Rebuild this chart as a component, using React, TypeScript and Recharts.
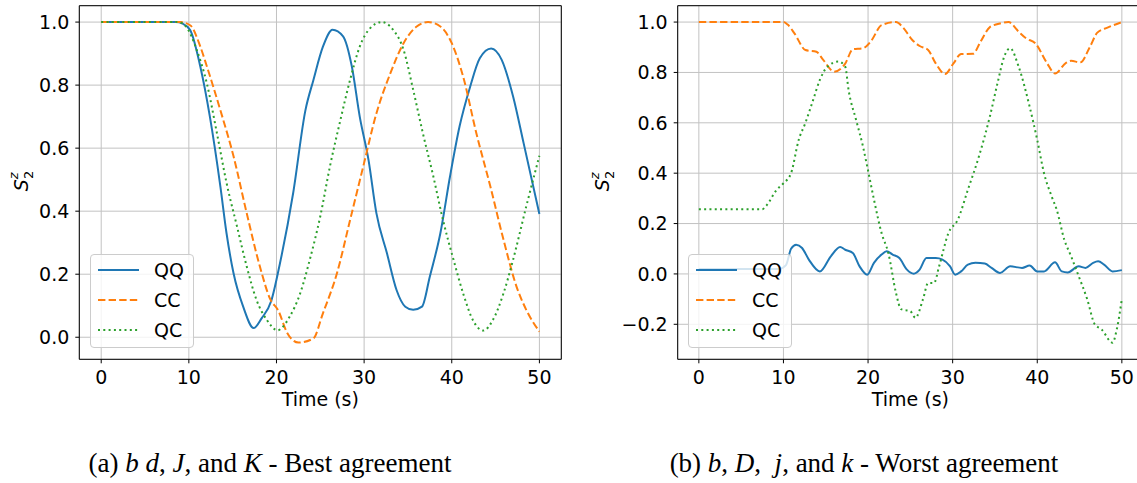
import React from "react";
import {
  LineChart,
  Line,
  XAxis,
  YAxis,
  CartesianGrid,
  Legend,
  ReferenceArea
} from "recharts";

const FONT = '"DejaVu Sans", Verdana, sans-serif';
const BLUE = "#1f77b4";
const ORANGE = "#ff7f0e";
const GREEN = "#2ca02c";

const timeTicks = [0, 10, 20, 30, 40, 50];
const bestTicks = [0, 0.2, 0.4, 0.6, 0.8, 1.0];
const worstTicks = [-0.2, 0, 0.2, 0.4, 0.6, 0.8, 1.0];

// (a) best agreement
const bestQQTime = [0, 8.5, 9.3, 10.15, 11.3, 12.4, 13.6, 14.3, 15.1, 16.2, 17.4, 18.3, 19.4, 20.4, 21.9, 23.3, 24.2, 25.3, 26.4, 27.6, 28.6, 29.5, 30.5, 31.4, 32.6, 33.7, 34.7, 35.6, 36.6, 37.5, 38.7, 39.8, 40.9, 42.1, 43.2, 44.5, 45.7, 47.0, 48.2, 50];
const bestQQ = [1, 1, 0.995, 0.975, 0.86, 0.7, 0.478, 0.33, 0.203, 0.097, 0.029, 0.06, 0.115, 0.235, 0.457, 0.72, 0.815, 0.922, 0.976, 0.955, 0.859, 0.7, 0.563, 0.394, 0.267, 0.15, 0.097, 0.087, 0.097, 0.193, 0.33, 0.51, 0.67, 0.795, 0.885, 0.916, 0.88, 0.764, 0.616, 0.391];

const bestCCTime = [0, 9, 10.15, 11.3, 12.05, 13.6, 15.1, 16.6, 18.1, 19.3, 20.2, 21.2, 22.5, 24.2, 25.3, 26.9, 28.4, 29.9, 31.4, 33.0, 34.5, 36.0, 37.3, 38.7, 40.0, 41.3, 42.8, 44.4, 45.9, 47.4, 48.5, 50];
const bestCC = [1, 1, 0.99, 0.923, 0.86, 0.72, 0.574, 0.394, 0.225, 0.12, 0.085, 0.015, -0.017, -0.004, 0.076, 0.203, 0.372, 0.542, 0.71, 0.838, 0.933, 0.986, 1.0, 0.986, 0.933, 0.827, 0.648, 0.479, 0.31, 0.16, 0.087, 0.018];

const bestQCTime = [0, 8.8, 9.7, 10.9, 12.05, 13.2, 14.3, 15.5, 16.6, 17.7, 18.9, 20.1, 21.5, 22.7, 23.8, 25.0, 26.1, 27.3, 28.4, 29.5, 30.7, 32.0, 33.3, 34.5, 35.6, 36.7, 37.9, 39.0, 40.2, 41.3, 42.4, 43.6, 44.7, 45.9, 47.0, 48.5, 50];
const bestQC = [1, 1, 0.985, 0.912, 0.806, 0.648, 0.49, 0.351, 0.225, 0.12, 0.055, 0.022, 0.065, 0.139, 0.246, 0.384, 0.542, 0.69, 0.817, 0.922, 0.981, 1.0, 0.976, 0.912, 0.785, 0.648, 0.51, 0.372, 0.246, 0.139, 0.055, 0.021, 0.055, 0.139, 0.246, 0.415, 0.576];

// (b) worst agreement
const worstQQTime = [0, 9.5, 10.3, 10.9, 11.5, 12.2, 13.0, 14.3, 15.6, 16.7, 17.3, 18.2, 19.0, 19.9, 20.7, 21.6, 22.2, 22.9, 23.7, 24.6, 25.4, 26.1, 26.9, 28.0, 28.8, 29.7, 30.3, 31.0, 31.8, 32.7, 33.8, 34.6, 35.6, 36.8, 38.2, 39.1, 40.0, 40.8, 42.1, 42.9, 43.6, 44.9, 45.7, 46.6, 47.2, 47.9, 48.9, 50];
const worstQQ = [0.02, 0.02, 0.035, 0.1, 0.116, 0.103, 0.057, 0.01, 0.07, 0.107, 0.096, 0.083, 0.03, -0.003, 0.044, 0.077, 0.09, 0.077, 0.063, 0.017, 0.001, 0.017, 0.063, 0.063, 0.057, 0.03, -0.003, 0.01, 0.037, 0.044, 0.041, 0.024, 0.004, 0.03, 0.024, 0.033, 0.01, 0.01, 0.046, 0.01, 0.006, 0.03, 0.024, 0.044, 0.05, 0.037, 0.01, 0.015];

const worstCCTime = [0, 10, 10.5, 11.3, 12.6, 13.9, 14.7, 16.0, 17.3, 18.2, 19.4, 20.3, 21.6, 23.3, 24.1, 25.2, 26.1, 27.1, 28.0, 29.1, 30.1, 31.0, 32.4, 33.3, 34.4, 35.7, 36.6, 37.8, 38.7, 39.8, 41.1, 42.1, 43.4, 44.0, 45.1, 46.2, 47.1, 48.3, 50];
const worstCC = [1, 1, 0.99, 0.955, 0.889, 0.882, 0.85, 0.803, 0.835, 0.892, 0.896, 0.922, 0.988, 1.0, 0.98, 0.93, 0.905, 0.889, 0.836, 0.794, 0.836, 0.873, 0.874, 0.922, 0.98, 0.995, 1.0, 0.962, 0.935, 0.915, 0.84, 0.796, 0.838, 0.846, 0.84, 0.9, 0.958, 0.978, 1.0];

const worstQCTime = [0, 7.5, 7.9, 9.2, 10.0, 10.9, 11.8, 12.6, 13.5, 14.3, 15.2, 16.5, 17.3, 17.7, 18.6, 19.4, 19.9, 20.7, 21.6, 22.4, 23.3, 23.9, 25.0, 25.6, 26.5, 27.1, 27.8, 28.4, 29.5, 30.6, 31.8, 33.1, 34.4, 35.3, 36.1, 36.8, 37.8, 39.1, 40.0, 40.8, 41.7, 42.3, 43.2, 44.0, 44.9, 45.9, 46.8, 47.6, 48.9, 49.4, 50];
const worstQC = [0.257, 0.257, 0.268, 0.334, 0.36, 0.4, 0.532, 0.6, 0.69, 0.77, 0.823, 0.843, 0.823, 0.73, 0.61, 0.506, 0.427, 0.295, 0.162, 0.083, -0.075, -0.14, -0.148, -0.174, -0.1, -0.036, -0.036, 0.03, 0.162, 0.215, 0.334, 0.466, 0.625, 0.757, 0.863, 0.896, 0.823, 0.664, 0.532, 0.4, 0.308, 0.255, 0.136, 0.07, -0.009, -0.1, -0.2, -0.22, -0.273, -0.22, -0.1];

const zip = (t: number[], s: number[]) => t.map((x, i) => ({ t: x, s: s[i] }));

const styles = [
  { name: "QQ", color: BLUE, dash: undefined as string | undefined },
  { name: "CC", color: ORANGE, dash: "7.4 3.2" },
  { name: "QC", color: GREEN, dash: "2 3.3" }
];

const LegendBox = () => (
  <div
    style={{
      position: "relative",
      width: 104,
      height: 94,
      boxSizing: "border-box",
      background: "rgba(255,255,255,0.8)",
      border: "1px solid #cccccc",
      borderRadius: 4,
      fontFamily: FONT,
      fontSize: 19,
      color: "#000"
    }}
  >
    {styles.map((s, i) => (
      <div key={s.name}>
        <svg
          width={50}
          height={6}
          style={{ position: "absolute", left: 0, top: 15 + i * 30 - 3 }}
        >
          <line
            x1={7}
            x2={48}
            y1={3}
            y2={3}
            stroke={s.color}
            strokeWidth={2}
            strokeDasharray={s.dash}
          />
        </svg>
        <span
          style={{
            position: "absolute",
            left: 63,
            top: 15 + i * 30 - 12,
            lineHeight: "24px"
          }}
        >
          {s.name}
        </span>
      </div>
    ))}
  </div>
);

const YTitle = ({ px, py }: { px: number; py: number }) => (
  <text
    transform={`translate(${px},${py}) rotate(-90)`}
    textAnchor="middle"
    fontFamily={FONT}
    fontSize={19}
    fill="#000"
  >
    <tspan fontStyle="italic">S</tspan>
    <tspan fontSize={13} dy={5}>2</tspan>
    <tspan fontSize={13} fontStyle="italic" dx={-8.3} dy={-15}>z</tspan>
  </text>
);

const XTitle = ({ px, py }: { px: number; py: number }) => (
  <text x={px} y={py} textAnchor="middle" fontFamily={FONT} fontSize={19} fill="#000">
    Time (s)
  </text>
);

const fmt = (v: number) => (v < 0 ? "\u2212" : "") + Math.abs(v).toFixed(1);

interface PanelProps {
  left: number;
  width: number;
  marginLeft: number;
  marginRight: number;
  yDomain: [number, number];
  yTicks: number[];
  qq: { t: number; s: number }[];
  cc: { t: number; s: number }[];
  qc: { t: number; s: number }[];
  yTitleX: number;
  legendLeft: number;
}

const Panel = (p: PanelProps) => {
  const tickStyle = { fill: "#000", fontSize: 19, fontFamily: FONT };
  const plotCenter = p.marginLeft + 60 + (p.width - p.marginLeft - 60 - p.marginRight) / 2;
  return (
    <div style={{ position: "absolute", left: p.left, top: 0 }}>
      <LineChart
        width={p.width}
        height={420}
        margin={{ top: 5.7, right: p.marginRight, bottom: 8.7, left: p.marginLeft }}
      >
        <CartesianGrid stroke="#c2c2c2" strokeWidth={1} />
        <XAxis
          dataKey="t"
          type="number"
          domain={[-2.5, 52.5]}
          ticks={timeTicks}
          allowDataOverflow
          height={52}
          axisLine={false}
          tickLine={{ stroke: "#000" }}
          tickSize={4}
          tickMargin={7}
          tick={tickStyle}
          label={<XTitle px={plotCenter} py={405.5} />}
        />
        <YAxis
          type="number"
          domain={p.yDomain}
          ticks={p.yTicks}
          allowDataOverflow
          width={60}
          axisLine={false}
          tickLine={{ stroke: "#000" }}
          tickSize={4}
          tickMargin={6}
          tick={tickStyle}
          tickFormatter={fmt}
          label={<YTitle px={p.yTitleX} py={181} />}
        />
        <ReferenceArea
          x1={-2.5}
          x2={52.5}
          y1={p.yDomain[0]}
          y2={p.yDomain[1]}
          fill="none"
          stroke="#000"
          strokeWidth={1}
          ifOverflow="visible"
        />
        <Line data={p.qq} dataKey="s" name="QQ" type="monotone" stroke={BLUE} strokeWidth={2} dot={false} isAnimationActive={false} />
        <Line data={p.cc} dataKey="s" name="CC" type="monotone" stroke={ORANGE} strokeWidth={2} strokeDasharray="7.4 3.2" dot={false} isAnimationActive={false} />
        <Line data={p.qc} dataKey="s" name="QC" type="monotone" stroke={GREEN} strokeWidth={2} strokeDasharray="2 3.3" dot={false} isAnimationActive={false} />
        <Legend
          layout="vertical"
          align="center"
          verticalAlign="middle"
          content={() => <LegendBox />}
          wrapperStyle={{ left: p.legendLeft, top: 254, width: 104, height: 94 }}
        />
      </LineChart>
    </div>
  );
};

export default function App() {
  return (
    <div
      style={{
        position: "fixed",
        left: 0,
        top: 0,
        width: 1137,
        height: 483,
        overflow: "hidden",
        background: "#fff"
      }}
    >
      <Panel
        left={0}
        width={570}
        marginLeft={19.3}
        marginRight={8.7}
        yDomain={[-0.07, 1.052]}
        yTicks={bestTicks}
        qq={zip(bestQQTime, bestQQ)}
        cc={zip(bestCCTime, bestCC)}
        qc={zip(bestQCTime, bestQC)}
        yTitleX={28}
        legendLeft={90}
      />
      <Panel
        left={570}
        width={580}
        marginLeft={47.7}
        marginRight={7}
        yDomain={[-0.339, 1.065]}
        yTicks={worstTicks}
        qq={zip(worstQQTime, worstQQ)}
        cc={zip(worstCCTime, worstCC)}
        qc={zip(worstQCTime, worstQC)}
        yTitleX={38.5}
        legendLeft={118}
      />
      <svg width={1137} height={483} style={{ position: "absolute", left: 0, top: 0, pointerEvents: "none" }}>
        <text x={270} y={472} textAnchor="middle" fontFamily='"Liberation Serif", serif' fontSize={27} fill="#000">
          (a) <tspan fontStyle="italic">b d</tspan>, <tspan fontStyle="italic">J</tspan>, and{" "}
          <tspan fontStyle="italic">K</tspan> - Best agreement
        </text>
        <text x={864} y={472} textAnchor="middle" fontFamily='"Liberation Serif", serif' fontSize={27} fill="#000" xmlSpace="preserve">
          (b) <tspan fontStyle="italic">b</tspan>, <tspan fontStyle="italic">D</tspan>,  <tspan fontStyle="italic">j</tspan>, and{" "}
          <tspan fontStyle="italic">k</tspan> - Worst agreement
        </text>
      </svg>
    </div>
  );
}
